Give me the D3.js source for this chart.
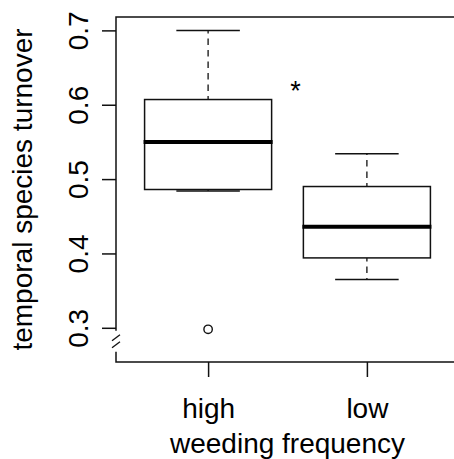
<!DOCTYPE html>
<html lang="en">
<head>
    <meta charset="UTF-8">
    <title>Temporal species turnover by weeding frequency</title>
    <script src="https://d3js.org/d3.v7.min.js"></script>
    <style>
        body {
            margin: 0;
            padding: 0;
            background: white;
        }
        svg text {
            font-family: "Liberation Sans", Arial, sans-serif;
            fill: #000;
        }
    </style>
</head>
<body>
    <div id="chart"></div>
    <script>
        // data
        const groups = ["high", "low"]
        const lowerWhisker = [0.484, 0.365]
        const lowerHinge = [0.486, 0.394]
        const medians = [0.550, 0.436]
        const upperHinge = [0.607, 0.490]
        const upperWhisker = [0.700, 0.534]
        const outliers = [{ group: 0, value: 0.298 }]
        const yTicks = [0.3, 0.4, 0.5, 0.6, 0.7]
        const star = { pos: 1.55, value: 0.627, label: "*" }

        // 1. dimensions
        let dimensions = {
            width: 454,
            height: 459,
            margin: { top: 17, right: -5, bottom: 97, left: 116 },
        }
        dimensions.boundedWidth = dimensions.width - dimensions.margin.left - dimensions.margin.right
        dimensions.boundedHeight = dimensions.height - dimensions.margin.top - dimensions.margin.bottom

        // 2. canvas
        const wrapper = d3.select("#chart")
            .append("svg")
                .attr("width", dimensions.width)
                .attr("height", dimensions.height)

        const bounds = wrapper.append("g")
            .attr("transform", `translate(${dimensions.margin.left}, ${dimensions.margin.top})`)

        // 3. scales (R style: groups at 1, 2 with xlim 0.42..2.58)
        const xScale = d3.scaleLinear()
            .domain([0.42, 2.58])
            .range([0, dimensions.boundedWidth])

        const yScale = d3.scaleLinear()
            .domain([0.254, 0.718])
            .range([dimensions.boundedHeight, 0])

        const boxHalf = xScale(1.4) - xScale(1)
        const capHalf = boxHalf / 2
        const ink = "#111"

        // 4. boxes
        const box = bounds.selectAll(".box")
            .data(groups)
            .join("g")
                .attr("class", "box")

        box.append("line")
            .attr("x1", (d, i) => xScale(i + 1))
            .attr("x2", (d, i) => xScale(i + 1))
            .attr("y1", (d, i) => yScale(upperHinge[i]))
            .attr("y2", (d, i) => yScale(upperWhisker[i]))
            .attr("stroke", ink)
            .attr("stroke-width", 1.3)
            .attr("stroke-dasharray", "6.5,5")
            .attr("stroke-dashoffset", 3)

        box.append("line")
            .attr("x1", (d, i) => xScale(i + 1))
            .attr("x2", (d, i) => xScale(i + 1))
            .attr("y1", (d, i) => yScale(lowerHinge[i]))
            .attr("y2", (d, i) => yScale(lowerWhisker[i]))
            .attr("stroke", ink)
            .attr("stroke-width", 1.3)
            .attr("stroke-dasharray", "6.5,5")
            .attr("stroke-dashoffset", 3)

        // staples
        box.append("line")
            .attr("x1", (d, i) => xScale(i + 1) - capHalf)
            .attr("x2", (d, i) => xScale(i + 1) + capHalf)
            .attr("y1", (d, i) => yScale(upperWhisker[i]))
            .attr("y2", (d, i) => yScale(upperWhisker[i]))
            .attr("stroke", ink)
            .attr("stroke-width", 1.5)

        box.append("line")
            .attr("x1", (d, i) => xScale(i + 1) - capHalf)
            .attr("x2", (d, i) => xScale(i + 1) + capHalf)
            .attr("y1", (d, i) => yScale(lowerWhisker[i]))
            .attr("y2", (d, i) => yScale(lowerWhisker[i]))
            .attr("stroke", ink)
            .attr("stroke-width", 1.5)

        box.append("rect")
            .attr("x", (d, i) => xScale(i + 1) - boxHalf)
            .attr("width", boxHalf * 2)
            .attr("y", (d, i) => yScale(upperHinge[i]))
            .attr("height", (d, i) => yScale(lowerHinge[i]) - yScale(upperHinge[i]))
            .attr("fill", "white")
            .attr("stroke", ink)
            .attr("stroke-width", 1.5)

        box.append("line")
            .attr("x1", (d, i) => xScale(i + 1) - boxHalf - 1)
            .attr("x2", (d, i) => xScale(i + 1) + boxHalf + 1)
            .attr("y1", (d, i) => yScale(medians[i]))
            .attr("y2", (d, i) => yScale(medians[i]))
            .attr("stroke", "#000")
            .attr("stroke-width", 4)

        bounds.selectAll(".outlier")
            .data(outliers)
            .join("circle")
                .attr("class", "outlier")
                .attr("cx", d => xScale(d.group + 1))
                .attr("cy", d => yScale(d.value))
                .attr("r", 4.2)
                .attr("fill", "none")
                .attr("stroke", ink)
                .attr("stroke-width", 1.4)

        bounds.append("text")
            .attr("x", xScale(star.pos))
            .attr("y", yScale(star.value) + 15)
            .attr("text-anchor", "middle")
            .style("font-size", "27px")
            .text(star.label)

        // 5. frame (open on the right, cut by the page)
        const breakY = yScale(0.3) + 14
        bounds.append("path")
            .attr("d", `M${dimensions.boundedWidth},0 H0 V${breakY - 11}`)
            .attr("fill", "none")
            .attr("stroke", ink)
            .attr("stroke-width", 1.5)
        bounds.append("path")
            .attr("d", `M0,${breakY + 10} V${dimensions.boundedHeight} H${dimensions.boundedWidth}`)
            .attr("fill", "none")
            .attr("stroke", ink)
            .attr("stroke-width", 1.5)
        // axis break slashes
        bounds.selectAll(".slash")
            .data([-4, 3])
            .join("line")
                .attr("class", "slash")
                .attr("x1", -4)
                .attr("x2", 4)
                .attr("y1", d => breakY + d + 3)
                .attr("y2", d => breakY + d - 3)
                .attr("stroke", ink)
                .attr("stroke-width", 1.3)

        // 6. axes
        const yAxis = bounds.append("g")
            .call(d3.axisLeft(yScale)
                .tickValues(yTicks)
                .tickSize(14)
                .tickPadding(0)
                .tickFormat(d3.format(".1f")))
        yAxis.select(".domain").remove()
        yAxis.selectAll(".tick line")
            .attr("stroke", ink)
            .attr("stroke-width", 1.5)
        yAxis.selectAll(".tick text")
            .attr("x", 0)
            .attr("y", 0)
            .attr("dy", 0)
            .attr("transform", "translate(-28,0) rotate(-90)")
            .attr("text-anchor", "middle")
            .style("font-size", "28px")

        const xAxis = bounds.append("g")
            .attr("transform", `translate(0, ${dimensions.boundedHeight})`)
            .call(d3.axisBottom(xScale)
                .tickValues([1, 2])
                .tickSize(15)
                .tickPadding(0)
                .tickFormat((d, i) => groups[i]))
        xAxis.select(".domain").remove()
        xAxis.selectAll(".tick line")
            .attr("stroke", ink)
            .attr("stroke-width", 1.5)
        xAxis.selectAll(".tick text")
            .attr("y", 56)
            .attr("dy", 0)
            .style("font-size", "28px")

        // 7. titles
        wrapper.append("text")
            .attr("x", dimensions.margin.left + xScale(1.5))
            .attr("y", 453)
            .attr("text-anchor", "middle")
            .style("font-size", "28px")
            .text("weeding frequency")

        wrapper.append("text")
            .attr("transform", `translate(32, ${dimensions.margin.top + dimensions.boundedHeight / 2}) rotate(-90)`)
            .attr("text-anchor", "middle")
            .style("font-size", "28px")
            .text("temporal species turnover")
    </script>
</body>
</html>
